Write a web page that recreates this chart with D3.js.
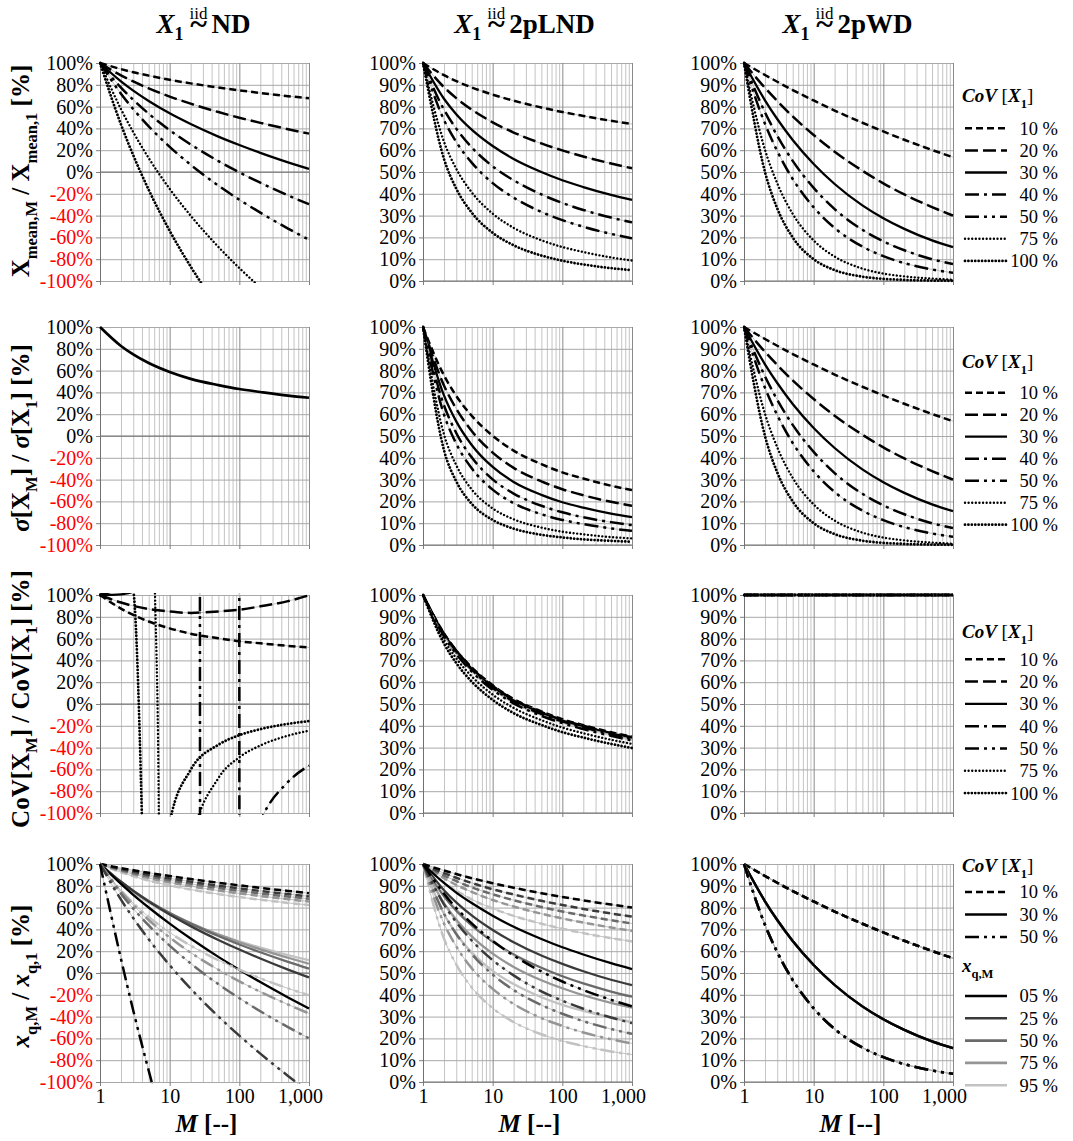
<!DOCTYPE html>
<html>
<head>
<meta charset="utf-8">
<script src="https://cdn.jsdelivr.net/npm/d3@7/dist/d3.min.js"></script>
<style>
  body { margin: 0; background: #fff; }
  text { font-family: "Liberation Serif", "Times New Roman", serif; white-space: pre; }
</style>
</head>
<body>
<script>
// sample sizes M used for all curves
const M = [1, 2, 3, 5, 10, 20, 50, 100, 200, 500, 1000]

const covNames = ['10 %', '20 %', '30 %', '40 %', '50 %', '75 %', '100 %']
const quantNames = ['05 %', '25 %', '50 %', '75 %', '95 %']
const quantCovNames = ['10 %', '30 %', '50 %']
const distNames = ['ND', '2pLND', '2pWD']
const yTicksND = [-100, -80, -60, -40, -20, 0, 20, 40, 60, 80, 100]
const yTicksPos = [0, 10, 20, 30, 40, 50, 60, 70, 80, 90, 100]
const xTickLabels = [1, 10, 100, 1000]

// row 1: X_mean,M / X_mean,1 [%], one array per CoV
const meanND = [
  [100, 94.4, 91.5, 88.4, 84.6, 81.3, 77.5, 74.9, 72.5, 69.6, 67.6],
  [100, 88.7, 83.1, 76.7, 69.2, 62.7, 55.0, 49.8, 45.1, 39.3, 35.2],
  [100, 83.1, 74.6, 65.1, 53.8, 44.0, 32.5, 24.8, 17.6, 8.9, 2.8],
  [100, 77.4, 66.2, 53.5, 38.4, 25.3, 10.0, -0.3, -9.8, -21.5, -29.6],
  [100, 71.8, 57.7, 41.9, 23.1, 6.7, -12.5, -25.4, -37.3, -51.9, -62.1],
  [100, 57.7, 36.6, 12.8, -15.4, -40.0, -68.7, -88.1, -106, null, null],
  [100, 43.6, 15.4, -16.3, -53.9, -86.7, -124.9, null, null, null, null]
]
const meanLND = [
  [100, 94.4, 91.7, 88.8, 85.5, 82.7, 79.6, 77.5, 75.7, 73.5, 72.0],
  [100, 88.9, 83.9, 78.6, 72.8, 68.1, 63.1, 59.9, 57.1, 53.9, 51.7],
  [100, 83.6, 76.5, 69.4, 61.9, 56.0, 50.0, 46.2, 43.1, 39.5, 37.2],
  [100, 78.6, 69.9, 61.3, 52.6, 46.2, 39.7, 35.8, 32.6, 29.1, 26.9],
  [100, 73.9, 63.8, 54.3, 44.9, 38.2, 31.7, 27.9, 24.9, 21.6, 19.6],
  [100, 63.9, 51.5, 40.7, 30.9, 24.4, 18.7, 15.6, 13.3, 10.8, 9.4],
  [100, 56.0, 42.4, 31.4, 22.1, 16.4, 11.7, 9.3, 7.6, 5.9, 5.0]
]
const meanWD = [
  [100, 94.5, 91.4, 87.6, 82.8, 78.2, 72.6, 68.6, 64.8, 60.1, 56.8],
  [100, 88.6, 82.6, 75.5, 67.0, 59.3, 50.6, 44.8, 39.7, 33.9, 30.0],
  [100, 82.9, 74.3, 64.7, 53.7, 44.5, 34.7, 28.8, 23.9, 18.6, 15.5],
  [100, 77.4, 66.6, 55.1, 42.7, 33.0, 23.5, 18.2, 14.1, 10.0, 7.8],
  [100, 72.1, 59.6, 46.8, 33.8, 24.3, 15.8, 11.4, 8.2, 5.3, 3.8],
  [100, 60.2, 44.8, 30.8, 18.6, 11.2, 5.7, 3.4, 2.1, 1.1, 0.6],
  [100, 50.0, 33.3, 20.0, 10.0, 5.0, 2.0, 1.0, 0.5, 0.2, 0.1]
]

// row 2: sigma[X_M] / sigma[X_1] [%]
const sdND = [
  [100, 82.6, 74.8, 66.9, 58.7, 52.4, 46.7, 43.1, 40.4, 37.1, 35.1]
]
const sdLND = [
  [100, 77.8, 68.4, 59.3, 50.1, 43.3, 37.1, 33.3, 30.5, 27.2, 25.2],
  [100, 73.2, 62.5, 52.3, 42.4, 35.4, 29.2, 25.6, 22.8, 19.8, 18.0],
  [100, 68.6, 56.7, 45.9, 35.8, 28.9, 23.0, 19.6, 17.1, 14.4, 12.8],
  [100, 64.1, 51.4, 40.2, 30.1, 23.6, 18.0, 15.0, 12.7, 10.5, 9.1],
  [100, 59.9, 46.5, 35.2, 25.4, 19.2, 14.1, 11.5, 9.6, 7.6, 6.5],
  [100, 50.8, 36.6, 25.5, 16.8, 11.8, 8.0, 6.1, 4.9, 3.6, 3.0],
  [100, 43.5, 29.2, 18.9, 11.5, 7.5, 4.7, 3.5, 2.6, 1.9, 1.5]
]
const sdWD = [
  [100, 94.5, 91.4, 87.6, 82.8, 78.2, 72.6, 68.6, 64.8, 60.1, 56.8],
  [100, 88.6, 82.6, 75.5, 67.0, 59.3, 50.6, 44.8, 39.7, 33.9, 30.0],
  [100, 82.9, 74.3, 64.7, 53.7, 44.5, 34.7, 28.8, 23.9, 18.6, 15.5],
  [100, 77.4, 66.6, 55.1, 42.7, 33.0, 23.5, 18.2, 14.1, 10.0, 7.8],
  [100, 72.1, 59.6, 46.8, 33.8, 24.3, 15.8, 11.4, 8.2, 5.3, 3.8],
  [100, 60.2, 44.8, 30.8, 18.6, 11.2, 5.7, 3.4, 2.1, 1.1, 0.6],
  [100, 50.0, 33.3, 20.0, 10.0, 5.0, 2.0, 1.0, 0.5, 0.2, 0.1]
]

// row 3: CoV[X_M] / CoV[X_1] [%]; the ND curves jump through +/- infinity
const covNDm = [
  [1, 2, 3, 5, 10, 20, 50, 100, 200, 500, 1000],
  [1, 2, 3, 5, 10, 20, 50, 100, 200, 500, 1000],
  [1, 2, 3, 5, 10],
  [1, 2, 3, 5, 10, 20, 50, 97, 103, 200, 500, 1000],
  [1, 2, 3, 5, 10, 20, 26, 28.5, 50, 100, 200, 500, 1000],
  [1, 2, 3, 5, 6, 7, 8, 10, 20, 50, 100, 200, 500, 1000],
  [1, 2, 3, 4, 5, 10, 20, 50, 100, 200, 500, 1000]
]
const covNDv = [
  [100, 87.5, 81.7, 75.7, 69.4, 64.5, 60.3, 57.5, 55.7, 53.3, 51.9],
  [100, 93.1, 90.0, 87.2, 84.8, 83.6, 84.9, 86.5, 89.6, 94.4, 99.7],
  [100, 100.6, 103, 108, 115],
  [100, 106.7, 113, 125, 153, 207, 467, 1500, -1500, -410, -173, -119],
  [100, 115, 130, 160, 254, 790, 2000, -2000, -374, -170, -108, -71.5, -56.5],
  [100, 143, 204, 500, 140, -105, -900, -381, -131, -68, -48.9, -38.1, -29.0, -24.5],
  [100, 143, 105, -105, -410, -109, -60.4, -37.4, -28.6, -23.1, -18.2, -15.7]
]
const covLND = [
  [100, 82.4, 74.6, 66.8, 58.6, 52.3, 46.6, 43.0, 40.3, 37.0, 35.0],
  [100, 82.3, 74.5, 66.5, 58.3, 52.0, 46.3, 42.7, 40.0, 36.7, 34.8],
  [100, 82.0, 74.1, 66.1, 57.8, 51.6, 45.9, 42.4, 39.7, 36.5, 34.4],
  [100, 81.6, 73.5, 65.6, 57.2, 51.0, 45.3, 41.8, 39.1, 36.0, 33.9],
  [100, 81.1, 72.9, 64.9, 56.5, 50.3, 44.6, 41.2, 38.5, 35.4, 33.3],
  [100, 79.5, 71.0, 62.7, 54.3, 48.2, 42.6, 39.2, 36.6, 33.6, 31.7],
  [100, 77.7, 68.8, 60.3, 51.9, 45.8, 40.4, 37.1, 34.6, 31.7, 29.8]
]
const covWD = [
  [100, 100, 100, 100, 100, 100, 100, 100, 100, 100, 100],
  [100, 100, 100, 100, 100, 100, 100, 100, 100, 100, 100],
  [100, 100, 100, 100, 100, 100, 100, 100, 100, 100, 100],
  [100, 100, 100, 100, 100, 100, 100, 100, 100, 100, 100],
  [100, 100, 100, 100, 100, 100, 100, 100, 100, 100, 100],
  [100, 100, 100, 100, 100, 100, 100, 100, 100, 100, 100],
  [100, 100, 100, 100, 100, 100, 100, 100, 100, 100, 100]
]

// row 4: x_q,M / x_q,1 [%], per CoV one array per quantile (05, 25, 50, 75, 95 %)
const quantND10 = [
  [100, 96.3, 94.3, 91.9, 89.0, 86.2, 82.8, 80.4, 78.1, 75.3, 73.2],
  [100, 95.4, 93.0, 90.2, 86.8, 83.8, 80.1, 77.6, 75.3, 72.4, 70.3],
  [100, 94.6, 91.8, 88.7, 85.0, 81.8, 78.0, 75.4, 73.0, 70.1, 68.0],
  [100, 93.7, 90.6, 87.1, 83.1, 79.6, 75.7, 73.0, 70.6, 67.7, 65.6],
  [100, 92.4, 88.8, 84.8, 80.3, 76.6, 72.4, 69.7, 67.2, 64.3, 62.3]
]
const quantND30 = [
  [100, 81.7, 71.7, 60.1, 45.3, 31.6, 14.8, 3.0, -8.3, -22.4, -32.6],
  [100, 83.7, 75.3, 65.6, 53.7, 43.0, 30.3, 21.5, 13.3, 3.1, -4.1],
  [100, 83.7, 75.4, 66.1, 55.0, 45.3, 33.9, 26.1, 19.0, 10.2, 4.0],
  [100, 83.2, 74.9, 65.7, 55.0, 45.8, 35.2, 28.2, 21.7, 14.0, 8.5],
  [100, 82.2, 73.7, 64.5, 54.0, 45.2, 35.4, 29.0, 23.3, 16.5, 11.8]
]
const quantND50 = [
  [100, 13.0, -34.4, -89.6, -160, null, null, null, null, null, null],
  [100, 67.3, 50.4, 30.9, 7.2, -14.3, -39.9, -57.5, -74.0, -94.4, -108.9],
  [100, 72.8, 59.1, 43.6, 25.1, 8.8, -10.2, -23.1, -35.1, -49.7, -60.0],
  [100, 74.8, 62.4, 48.6, 32.6, 18.7, 3.0, -7.6, -17.3, -28.9, -37.1],
  [100, 75.7, 64.1, 51.5, 37.1, 25.1, 11.8, 3.1, -4.8, -14.1, -20.5]
]
const quantLND10 = [
  [100, 97.0, 95.4, 93.5, 91.2, 89.1, 86.6, 84.9, 83.3, 81.4, 80.0],
  [100, 95.8, 93.7, 91.3, 88.4, 86.0, 83.1, 81.2, 79.4, 77.3, 75.9],
  [100, 94.7, 92.2, 89.3, 86.1, 83.4, 80.3, 78.2, 76.4, 74.2, 72.7],
  [100, 93.5, 90.4, 87.2, 83.5, 80.5, 77.2, 75.0, 73.1, 70.9, 69.3],
  [100, 91.5, 87.8, 83.8, 79.6, 76.2, 72.6, 70.3, 68.3, 66.0, 64.5]
]
const quantLND30 = [
  [100, 91.3, 86.9, 82.1, 76.3, 71.2, 65.6, 61.8, 58.5, 54.5, 51.8],
  [100, 88.0, 82.4, 76.4, 69.7, 64.1, 58.0, 54.2, 50.8, 46.9, 44.4],
  [100, 85.2, 78.6, 71.8, 64.4, 58.5, 52.4, 48.5, 45.2, 41.5, 39.1],
  [100, 82.0, 74.4, 66.8, 58.9, 52.8, 46.7, 43.0, 39.8, 36.3, 34.1],
  [100, 77.1, 68.1, 59.5, 51.0, 44.9, 38.9, 35.4, 32.6, 29.5, 27.5]
]
const quantLND50 = [
  [100, 86.4, 79.8, 72.8, 64.7, 58.0, 50.7, 46.1, 42.2, 37.7, 34.7],
  [100, 81.5, 73.3, 64.9, 55.9, 48.9, 41.6, 37.3, 33.6, 29.6, 27.0],
  [100, 77.3, 67.9, 58.7, 49.3, 42.2, 35.3, 31.3, 27.9, 24.3, 22.1],
  [100, 72.7, 62.2, 52.2, 42.7, 35.8, 29.3, 25.7, 22.7, 19.6, 17.7],
  [100, 65.8, 53.9, 43.4, 33.9, 27.5, 21.9, 18.8, 16.5, 14.0, 12.6]
]
const quantWD10 = [100, 94.5, 91.4, 87.6, 82.8, 78.2, 72.6, 68.6, 64.8, 60.1, 56.8]
const quantWD30 = [100, 82.9, 74.3, 64.7, 53.7, 44.5, 34.7, 28.8, 23.9, 18.6, 15.5]
const quantWD50 = [100, 72.1, 59.6, 46.8, 33.8, 24.3, 15.8, 11.4, 8.2, 5.3, 3.8]

// ---------- layout and styles ----------
const W = 209, H = 218
const colLeft = [100, 423, 744]
const rowTop = [63, 327, 595, 864]
const serif = '"Liberation Serif", "Times New Roman", serif'

// Excel-like line styles for the CoV series
const covStyle = [
  { dash: '7,4', width: 2.5, cap: 'butt', under: true },
  { dash: '13,5', width: 2.5, cap: 'butt', under: true },
  { dash: null, width: 2.3, cap: 'butt', under: false },
  { dash: '14,5,3,5', width: 2.5, cap: 'butt', under: true },
  { dash: '14,5,3,5,3,5', width: 2.5, cap: 'butt', under: true },
  { dash: '0.01,3.6', width: 2.4, cap: 'round', under: false },
  { dash: '0.01,3.4', width: 2.8, cap: 'round', under: false }
]
const quantCovStyle = [covStyle[0], covStyle[2], covStyle[4]]
const quantColors = ['#000000', '#3a3a3a', '#6a6a6a', '#959595', '#c2c2c2']

const x = d3.scaleLog().domain([1, 1000]).range([0, W])
const yND = d3.scaleLinear().domain([-100, 100]).range([H, 0])
const yPos = d3.scaleLinear().domain([0, 100]).range([H, 0])
const majors = [1, 10, 100, 1000]

const svg = d3.select('body').append('svg')
  .attr('width', 1073)
  .attr('height', 1141)

const defs = svg.append('defs')
defs.append('clipPath').attr('id', 'plotClip')
  .append('rect').attr('x', -1).attr('y', -2).attr('width', W + 2).attr('height', H + 4)

function styleLine(sel, st, color) {
  sel.attr('fill', 'none')
    .attr('stroke', color)
    .attr('stroke-width', st.width)
    .attr('stroke-linecap', st.cap)
    .attr('stroke-linejoin', 'round')
  if (st.dash) sel.attr('stroke-dasharray', st.dash)
  return sel
}

function drawPanel(row, col, series) {
  const y = col === 0 ? yND : yPos
  const ticks = col === 0 ? yTicksND : yTicksPos
  const g = svg.append('g').attr('transform', `translate(${colLeft[col]},${rowTop[row]})`)

  // minor vertical grid
  g.append('g')
    .attr('transform', `translate(0,${H})`)
    .call(d3.axisBottom(x).tickValues(x.ticks().filter(v => !majors.includes(v))).tickSize(H).tickFormat(''))
    .call(a => a.select('.domain').remove())
    .call(a => a.selectAll('line').attr('y2', -H).attr('stroke', '#c4c4c4').attr('stroke-width', 1))

  // horizontal grid
  g.append('g')
    .call(d3.axisLeft(y).tickValues(ticks).tickSize(-W).tickFormat(''))
    .call(a => a.select('.domain').remove())
    .call(a => a.selectAll('line').attr('stroke', '#a8a8a8').attr('stroke-width', 1))

  // major vertical grid
  g.append('g')
    .attr('transform', `translate(0,${H})`)
    .call(d3.axisBottom(x).tickValues([10, 100, 1000]).tickSize(H).tickFormat(''))
    .call(a => a.select('.domain').remove())
    .call(a => a.selectAll('line').attr('y2', -H).attr('stroke', '#8a8a8a').attr('stroke-width', 1))

  // horizontal axis line at 0 %
  g.append('line')
    .attr('x1', 0).attr('x2', W)
    .attr('y1', y(0)).attr('y2', y(0))
    .attr('stroke', '#6e6e6e').attr('stroke-width', 1)

  // bottom ticks and (last row) labels
  const xAxis = g.append('g')
    .attr('transform', `translate(0,${H})`)
    .attr('font-family', serif)
    .call(d3.axisBottom(x).tickValues(xTickLabels).tickSize(4).tickPadding(3)
      .tickFormat(row === 3 ? d3.format(',') : ''))
  xAxis.select('.domain').remove()
  xAxis.selectAll('line').attr('stroke', '#808080')
  xAxis.selectAll('text')
    .attr('font-size', 20)
    .attr('fill', '#000')
    .attr('dx', d => d === 1000 ? -9 : 0)

  // y axis
  const yAxis = g.append('g')
    .attr('font-family', serif)
    .call(d3.axisLeft(y).tickValues(ticks).tickSize(4).tickPadding(3).tickFormat(d => d + '%'))
  yAxis.select('.domain').attr('stroke', '#707070')
  yAxis.selectAll('line').attr('stroke', '#808080')
  yAxis.selectAll('text')
    .attr('font-size', 20)
    .attr('fill', d => d < 0 ? '#ff0000' : '#000')

  // curves
  const line = d3.line()
    .defined(d => d[1] != null)
    .x(d => x(d[0]))
    .y(d => y(d[1]))
    .curve(d3.curveMonotoneX)

  const plot = g.append('g').attr('clip-path', 'url(#plotClip)')
  series.forEach(s => {
    const pts = s.xs.map((m, i) => [m, s.ys[i]])
    if (s.style.under) {
      plot.append('path')
        .attr('d', line(pts))
        .attr('fill', 'none')
        .attr('stroke', '#b4b4b4')
        .attr('stroke-width', 0.8)
    }
    styleLine(plot.append('path').attr('d', line(pts)), s.style, s.color)
  })
}

function covSeries(arr) {
  return arr.map((ys, i) => ({ xs: M, ys: ys, style: covStyle[i], color: '#000' }))
}

function quantSeries(groups) {
  const out = []
  groups.forEach((grp, c) => {
    for (let q = grp.length - 1; q >= 0; q--) {
      out.push({ xs: M, ys: grp[q], style: quantCovStyle[c], color: quantColors[q] })
    }
  })
  return out
}

// row 1
drawPanel(0, 0, covSeries(meanND))
drawPanel(0, 1, covSeries(meanLND))
drawPanel(0, 2, covSeries(meanWD))
// row 2
drawPanel(1, 0, [{ xs: M, ys: sdND[0], style: { dash: null, width: 2.7, cap: 'butt' }, color: '#000' }])
drawPanel(1, 1, covSeries(sdLND))
drawPanel(1, 2, covSeries(sdWD))
// row 3
drawPanel(2, 0, covNDv.map((ys, i) => ({ xs: covNDm[i], ys: ys, style: covStyle[i], color: '#000' })))
drawPanel(2, 1, covSeries(covLND))
drawPanel(2, 2, covSeries(covWD))
// row 4
drawPanel(3, 0, quantSeries([quantND10, quantND30, quantND50]))
drawPanel(3, 1, quantSeries([quantLND10, quantLND30, quantLND50]))
drawPanel(3, 2, quantSeries([
  [quantWD10, quantWD10, quantWD10, quantWD10, quantWD10],
  [quantWD30, quantWD30, quantWD30, quantWD30, quantWD30],
  [quantWD50, quantWD50, quantWD50, quantWD50, quantWD50]
]))

// ---------- texts ----------
function rich(textSel, parts, size) {
  let cur = 0
  parts.forEach(p => {
    const off = p.sub ? size * 0.3 : 0
    textSel.append('tspan')
      .attr('dy', off - cur)
      .attr('font-size', p.sub ? size * 0.66 : size)
      .attr('font-style', p.it ? 'italic' : 'normal')
      .attr('font-weight', p.normal ? 'normal' : 'bold')
      .text(p.t)
    cur = off
  })
}

// column titles: X_1 ~(iid) name, built as one text element
function colTitle(cx, name) {
  const t = svg.append('text').attr('y', 33).attr('font-weight', 'bold')
  t.append('tspan').attr('font-size', 27).attr('font-style', 'italic').text('X')
  t.append('tspan').attr('font-size', 18).attr('dy', 7).text('1')
  const iid = t.append('tspan').attr('font-size', 17).attr('font-weight', 'normal')
    .attr('dy', -21).attr('dx', 6).text('iid')
  const tilde = t.append('tspan').attr('font-size', 32).attr('dy', 15).text('~')
  const nm = t.append('tspan').attr('font-size', 27).attr('dy', -1).text(name)
  const wi = iid.node().getComputedTextLength()
  const wt = tilde.node().getComputedTextLength()
  tilde.attr('dx', -(wi + wt) / 2)
  nm.attr('dx', Math.max(0, (wi - wt) / 2) + 4)
  const bb = t.node().getBBox()
  t.attr('x', cx - bb.width / 2 - bb.x)
}
colTitle(203, distNames[0])
colTitle(524, distNames[1])
colTitle(847, distNames[2])

// y axis titles
const yTitles = [
  { cy: 171, parts: [{ t: 'X' }, { t: 'mean,M', sub: true }, { t: ' / X' }, { t: 'mean,1', sub: true }, { t: ' [%]' }] },
  { cy: 438, parts: [{ t: 'σ', it: true }, { t: '[X' }, { t: 'M', sub: true }, { t: '] / ' }, { t: 'σ', it: true }, { t: '[X' }, { t: '1', sub: true }, { t: '] [%]' }] },
  { cy: 699, parts: [{ t: 'CoV[X' }, { t: 'M', sub: true }, { t: '] / CoV[X' }, { t: '1', sub: true }, { t: '] [%]' }] },
  { cy: 976, parts: [{ t: 'x', it: true }, { t: 'q,M', sub: true }, { t: ' / ' }, { t: 'x', it: true }, { t: 'q,1', sub: true }, { t: ' [%]' }] }
]
yTitles.forEach(d => {
  const t = svg.append('text')
    .attr('transform', `translate(29,${d.cy}) rotate(-90)`)
    .attr('text-anchor', 'middle')
  rich(t, d.parts, 25)
})

// x axis titles
colLeft.forEach(cl => {
  const t = svg.append('text')
    .attr('x', cl + W / 2 + 2)
    .attr('y', 1132)
    .attr('text-anchor', 'middle')
  rich(t, [{ t: 'M', it: true }, { t: ' [--]' }], 25)
})

// legends
function legendTitle(y, parts) {
  const t = svg.append('text').attr('x', 962).attr('y', y)
  rich(t, parts, 19)
}
function legendEntry(y, label, st, color) {
  styleLine(svg.append('line')
    .attr('x1', 965).attr('x2', 1007)
    .attr('y1', y).attr('y2', y), st, color)
  svg.append('text')
    .attr('x', 1058).attr('y', y)
    .attr('dy', '0.35em')
    .attr('text-anchor', 'end')
    .attr('font-size', 18.5)
    .text(label)
}
const covTitleParts = [{ t: 'CoV', it: true }, { t: ' [', normal: true }, { t: 'X', it: true }, { t: '1', sub: true }, { t: ']', normal: true }]

const legendRows = [
  { title: 102, first: 128.3, step: 22.1 },
  { title: 368, first: 392.7, step: 22 },
  { title: 638, first: 659.3, step: 22.3 }
]
legendRows.forEach(r => {
  legendTitle(r.title, covTitleParts)
  covNames.forEach((n, i) => legendEntry(r.first + i * r.step, n, covStyle[i], '#000'))
})

legendTitle(872, covTitleParts)
quantCovNames.forEach((n, i) => legendEntry(892 + i * 22.5, n, quantCovStyle[i], '#000'))
legendTitle(972, [{ t: 'x', it: true }, { t: 'q,M', sub: true }])
quantNames.forEach((n, i) => legendEntry(996 + i * 22.3, n, { dash: null, width: 2.6, cap: 'butt' }, quantColors[i]))
</script>
</body>
</html>
